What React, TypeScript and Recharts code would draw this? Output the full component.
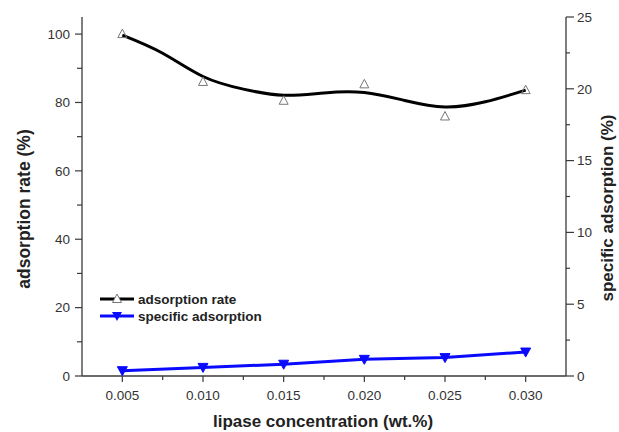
import React from "react"
import {
  ComposedChart,
  Legend,
  Line,
  XAxis,
  YAxis,
} from "recharts"

// lipase concentration (wt.%)
const concentrations = [0.005, 0.01, 0.015, 0.02, 0.025, 0.03]
// measured adsorption rate (%), left axis
const adsorptionRate = [100, 86, 80.5, 85.3, 75.9, 83.6]
// specific adsorption (%), right axis
const specificAdsorption = [0.37, 0.6, 0.82, 1.16, 1.28, 1.67]
// smoothed curve drawn through the adsorption rate
const fitX = [0.005, 0.0075, 0.01, 0.0125, 0.015, 0.0175, 0.02, 0.0225, 0.025, 0.0275, 0.03]
const fitRate = [99.7, 94.4, 87.6, 83.9, 82.1, 82.8, 82.9, 80.6, 78.7, 80.2, 83.6]

const xTicks = fitX
const leftTicks = [0, 10, 20, 30, 40, 50, 60, 70, 80, 90, 100]
const rightTicks = [0, 2.5, 5, 7.5, 10, 12.5, 15, 17.5, 20, 22.5, 25]

const font = "'Liberation Sans', Arial, sans-serif"
const axisColor = "#3a3a3a"
const labelColor = "#333"
const titleColor = "#222"
const blue = "#0a0aff"

const rows = fitX.map((x, i) => {
  const k = concentrations.findIndex((c) => Math.abs(c - x) < 1e-9)
  return {
    x,
    fit: fitRate[i],
    rate: k >= 0 ? adsorptionRate[k] : null,
    spec: k >= 0 ? specificAdsorption[k] : null,
  }
})

const LeftTick = (props: any) => {
  const { x, y, payload } = props
  const major = payload.value % 20 === 0
  return (
    <g>
      <line x1={x - (major ? 7 : 5)} x2={x} y1={y} y2={y} stroke={axisColor} strokeWidth={1.2} />
      {major && (
        <text x={x - 12} y={y} dy="0.35em" textAnchor="end" fontSize={13.5} fontFamily={font} fill={labelColor}>
          {payload.value}
        </text>
      )}
    </g>
  )
}

const RightTick = (props: any) => {
  const { x, y, payload } = props
  const major = payload.value % 5 === 0
  return (
    <g>
      <line x1={x} x2={x + (major ? 8 : 4)} y1={y} y2={y} stroke={axisColor} strokeWidth={1.2} />
      {major && (
        <text x={x + 11} y={y} dy="0.35em" textAnchor="start" fontSize={13.5} fontFamily={font} fill={labelColor}>
          {payload.value}
        </text>
      )}
    </g>
  )
}

const BottomTick = (props: any) => {
  const { x, y, index, payload } = props
  const major = index % 2 === 0
  return (
    <g>
      <line x1={x} x2={x} y1={y} y2={y + (major ? 6 : 4)} stroke={axisColor} strokeWidth={1.2} />
      {major && (
        <text x={x} y={y + 24} textAnchor="middle" fontSize={13.5} fontFamily={font} fill={labelColor}>
          {Number(payload.value).toFixed(3)}
        </text>
      )}
    </g>
  )
}

const TopTick = (props: any) => {
  const { x, y, index } = props
  const major = index % 2 === 0
  return <line x1={x} x2={x} y1={y} y2={y + (major ? 8 : 4)} stroke={axisColor} strokeWidth={1.2} />
}

const OpenTriangle = (props: any) => {
  const { cx, cy } = props
  if (cx == null || cy == null) return <g />
  return (
    <path
      d={`M${cx},${cy - 5} L${cx + 4.5},${cy + 3.5} L${cx - 4.5},${cy + 3.5} Z`}
      fill="none"
      stroke="#777"
      strokeWidth={1}
    />
  )
}

const DownTriangle = (props: any) => {
  const { cx, cy } = props
  if (cx == null || cy == null) return <g />
  return (
    <path d={`M${cx - 5},${cy - 4} L${cx + 5},${cy - 4} L${cx},${cy + 5} Z`} fill={blue} stroke={blue} />
  )
}

const legendItems = [
  { name: "adsorption rate", color: "#000", marker: "up" },
  { name: "specific adsorption", color: blue, marker: "down" },
]

const renderLegend = () => (
  <svg width={220} height={36}>
    {legendItems.map((item, i) => {
      const cy = 8 + i * 17
      return (
        <g key={item.name}>
          <line x1={2} x2={36} y1={cy} y2={cy} stroke={item.color} strokeWidth={3} />
          {item.marker === "up" ? (
            <path d={`M19,${cy - 5} L23.5,${cy + 3.5} L14.5,${cy + 3.5} Z`} fill="#fff" stroke="#777" />
          ) : (
            <path d={`M14,${cy - 4} L24,${cy - 4} L19,${cy + 5} Z`} fill={blue} />
          )}
          <text x={40} y={cy} dy="0.35em" fontSize={13.5} fontWeight="bold" fontFamily={font} fill={titleColor}>
            {item.name}
          </text>
        </g>
      )
    })}
  </svg>
)

export default function App() {
  return (
    <div style={{ width: 619, height: 432, background: "#fff" }}>
      <style>{"body{margin:0}"}</style>
      <ComposedChart
        width={619}
        height={432}
        data={rows}
        margin={{ top: 17, right: 0, left: 0, bottom: 0 }}
      >
        <XAxis
          xAxisId="bottom"
          dataKey="x"
          type="number"
          domain={[0.0025, 0.0325]}
          ticks={xTicks}
          interval={0}
          height={56}
          tickSize={0}
          tickMargin={0}
          tickLine={false}
          tick={BottomTick}
          axisLine={{ stroke: axisColor, strokeWidth: 1.3 }}
          label={{
            content: () => (
              <text x={323} y={427} textAnchor="middle" fontSize={17} fontWeight="bold" fontFamily={font} fill={titleColor}>
                lipase concentration (wt.%)
              </text>
            ),
          }}
        />
        <XAxis
          xAxisId="top"
          dataKey="x"
          type="number"
          orientation="top"
          domain={[0.0025, 0.0325]}
          ticks={xTicks}
          interval={0}
          height={0}
          tickSize={0}
          tickMargin={0}
          tickLine={false}
          tick={TopTick}
          axisLine={{ stroke: axisColor, strokeWidth: 1.3 }}
        />
        <YAxis
          yAxisId="left"
          type="number"
          domain={[0, 105]}
          ticks={leftTicks}
          interval={0}
          width={82}
          tickSize={0}
          tickMargin={0}
          tickLine={false}
          tick={LeftTick}
          axisLine={{ stroke: axisColor, strokeWidth: 1.3 }}
          label={{
            content: () => (
              <text x={24} y={209} dy="0.35em" textAnchor="middle" transform="rotate(-90 24 209)" fontSize={17.5} fontWeight="bold" fontFamily={font} fill={titleColor}>
                adsorption rate (%)
              </text>
            ),
          }}
        />
        <YAxis
          yAxisId="right"
          orientation="right"
          type="number"
          domain={[0, 25]}
          ticks={rightTicks}
          interval={0}
          width={53}
          tickSize={0}
          tickMargin={0}
          tickLine={false}
          tick={RightTick}
          axisLine={{ stroke: axisColor, strokeWidth: 1.3 }}
          label={{
            content: () => (
              <text x={607} y={208} dy="0.35em" textAnchor="middle" transform="rotate(-90 607 208)" fontSize={17} fontWeight="bold" fontFamily={font} fill={titleColor}>
                specific adsorption (%)
              </text>
            ),
          }}
        />
        <Legend
          layout="vertical"
          align="center"
          verticalAlign="middle"
          content={renderLegend}
          wrapperStyle={{ left: 98, top: 291, width: 220, height: 36 }}
        />
        <Line
          xAxisId="bottom"
          yAxisId="left"
          dataKey="fit"
          type="natural"
          stroke="#000"
          strokeWidth={3}
          dot={false}
          activeDot={false}
          legendType="none"
          isAnimationActive={false}
        />
        <Line
          xAxisId="bottom"
          yAxisId="left"
          dataKey="rate"
          name="adsorption rate"
          stroke="none"
          dot={OpenTriangle}
          activeDot={false}
          isAnimationActive={false}
        />
        <Line
          xAxisId="bottom"
          yAxisId="right"
          dataKey="spec"
          name="specific adsorption"
          type="linear"
          stroke={blue}
          strokeWidth={3}
          connectNulls
          dot={DownTriangle}
          activeDot={false}
          isAnimationActive={false}
        />
      </ComposedChart>
    </div>
  )
}
